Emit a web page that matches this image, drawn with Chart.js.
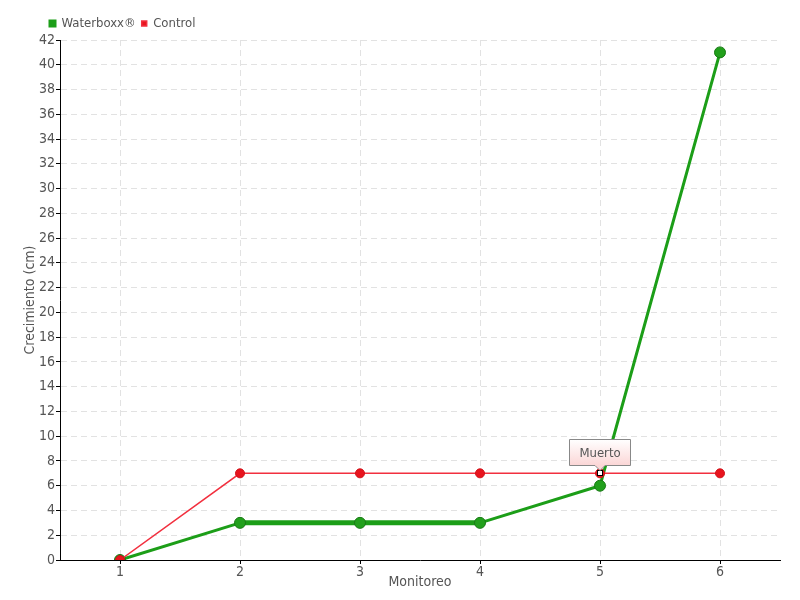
<!DOCTYPE html>
<html>
<head>
<meta charset="utf-8">
<script src="https://cdn.jsdelivr.net/npm/chart.js@4"></script>
<style>
html,body{margin:0;padding:0;background:#fff;}
#wrap{width:800px;height:600px;}
</style>
</head>
<body>
<div id="wrap"><canvas id="c" width="800" height="600"></canvas></div>
<script>
const categories = ['1', '2', '3', '4', '5', '6'];
const waterboxx = [0, 3, 3, 3, 6, 41];
const control = [0, 7, 7, 7, 7, 7];
const annotationIndex = 4;
const annotationText = 'Muerto';
const seriesNames = ['Waterboxx®', 'Control'];
const xTitle = 'Monitoreo';
const yTitle = 'Crecimiento (cm)';

const FONT = '"DejaVu Sans Condensed", "Liberation Sans Narrow", "Roboto", sans-serif';

const legendShift = {
  id: 'legendShift',
  afterLayout(chart) {
    if (chart.legend) {
      chart.legend.left += 44;
      chart.legend.right += 44;
    }
  }
};

const annotationPlugin = {
  id: 'muerto',
  afterDatasetsDraw(chart) {
    const ctx = chart.ctx;
    const xs = chart.scales.x, ys = chart.scales.y;
    const px = Math.round(xs.getPixelForValue(annotationIndex));
    const py = Math.round(ys.getPixelForValue(control[annotationIndex]));
    ctx.save();
    ctx.fillStyle = '#fff';
    ctx.strokeStyle = '#000';
    ctx.lineWidth = 1;
    ctx.fillRect(px - 3, py - 3, 6, 6);
    ctx.strokeRect(px - 2.5, py - 2.5, 5, 5);
    ctx.font = '13px ' + FONT;
    const w = 61, h = 26;
    const bx = px - 30.5, by = py - 33.5;
    const g = ctx.createLinearGradient(0, by, 0, by + h);
    g.addColorStop(0, '#ffffff');
    g.addColorStop(1, '#fbd6d6');
    ctx.beginPath();
    ctx.moveTo(bx, by);
    ctx.lineTo(bx + w, by);
    ctx.lineTo(bx + w, by + h);
    ctx.lineTo(px + 5, by + h);
    ctx.lineTo(px, by + h + 5);
    ctx.lineTo(px - 5, by + h);
    ctx.lineTo(bx, by + h);
    ctx.closePath();
    ctx.fillStyle = g;
    ctx.fill();
    ctx.strokeStyle = '#888';
    ctx.lineWidth = 1;
    ctx.stroke();
    ctx.fillStyle = '#555';
    ctx.textAlign = 'center';
    ctx.textBaseline = 'middle';
    ctx.fillText(annotationText, px, by + h / 2 + 1);
    ctx.restore();
  }
};

new Chart(document.getElementById('c'), {
  type: 'line',
  data: {
    labels: categories,
    datasets: [
      {
        label: seriesNames[0],
        data: waterboxx,
        borderColor: '#1c9e18',
        backgroundColor: '#1c9e18',
        pointBackgroundColor: '#22a01c',
        pointBorderColor: '#187a14',
        pointBorderWidth: 1,
        pointRadius: 5.5,
        borderWidth: 3,
        segment: {
          borderWidth: c => (c.p0DataIndex >= 1 && c.p1DataIndex <= 3) ? 5 : 3
        },
        tension: 0,
        order: 1
      },
      {
        label: seriesNames[1],
        data: control,
        borderColor: '#f2303f',
        backgroundColor: '#e8141e',
        pointBackgroundColor: '#e8141e',
        pointBorderColor: '#d01018',
        pointBorderWidth: 1,
        pointRadius: 4.5,
        borderWidth: 1.5,
        tension: 0,
        order: 0
      }
    ]
  },
  options: {
    responsive: false,
    animation: false,
    layout: { padding: { left: 0, right: 20, top: 11, bottom: 0 } },
    plugins: {
      tooltip: { enabled: false },
      legend: {
        position: 'top',
        align: 'start',
        labels: {
          sort: (a, b) => a.datasetIndex - b.datasetIndex,
          boxWidth: 5,
          boxHeight: 5,
          padding: 6,
          color: '#555',
          font: { family: FONT, size: 13 }
        }
      }
    },
    scales: {
      x: {
        type: 'category',
        offset: true,
        afterFit: s => { s.height = 40; },
        title: {
          display: true,
          text: xTitle,
          color: '#555',
          font: { family: FONT, size: 14 },
          padding: { top: 0, bottom: 9 }
        },
        ticks: { color: '#555', font: { family: FONT, size: 14 }, padding: 0 },
        border: { display: true, color: '#000', width: 1, dash: [6, 4] },
        grid: {
          color: '#e2e2e2',
          tickColor: '#000',
          tickLength: 4,
          tickBorderDash: [],
          offset: false
        }
      },
      y: {
        min: 0,
        max: 42,
        afterFit: s => { s.width = 60; },
        title: {
          display: true,
          text: yTitle,
          color: '#555',
          font: { family: FONT, size: 14 },
          padding: { top: 22, bottom: 0 }
        },
        ticks: { stepSize: 2, color: '#555', font: { family: FONT, size: 14 }, padding: 1 },
        border: { display: true, color: '#000', width: 1, dash: [6, 4] },
        grid: {
          color: '#e2e2e2',
          tickColor: '#000',
          tickLength: 4,
          tickBorderDash: []
        }
      }
    }
  },
  plugins: [annotationPlugin, legendShift]
});
</script>
</body>
</html>
